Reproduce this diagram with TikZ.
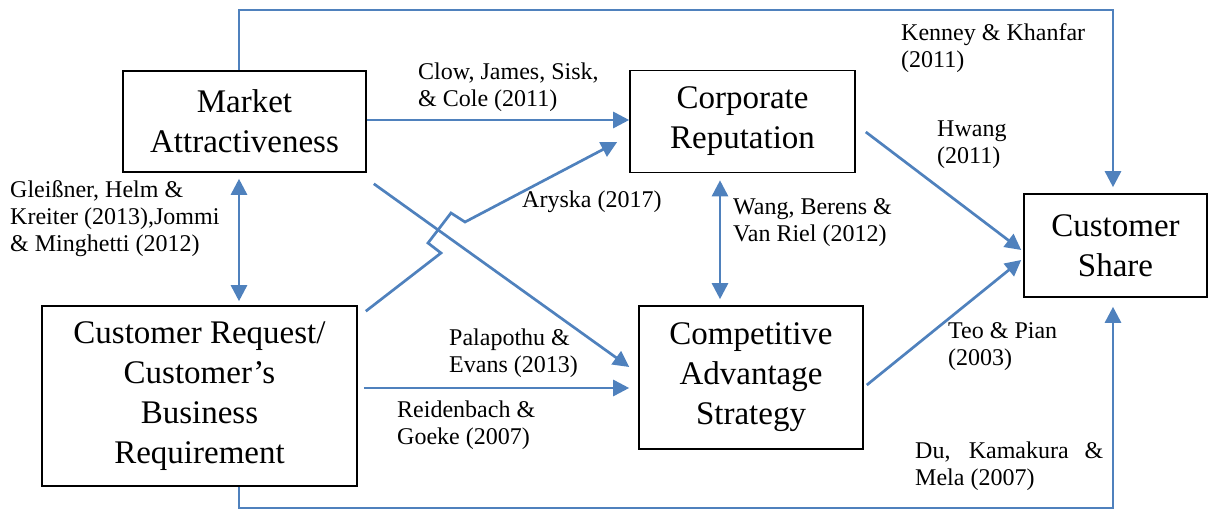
\documentclass[tikz,border=0pt]{standalone}
\usepackage{fontspec}
\setmainfont{Liberation Serif}
\usetikzlibrary{arrows.meta,calc}
\definecolor{linkblue}{RGB}{79,129,189}
\begin{document}
\begin{tikzpicture}[x=1pt,y=-1pt,
  box/.style={draw=black,line width=1.6pt,inner sep=0pt,align=center,font=\fontsize{33}{40}\selectfont},
  link/.style={draw=linkblue,line width=2.7pt,line join=miter,-{Triangle[length=16pt,width=16pt]}},
  both/.style={draw=linkblue,line width=2.7pt,{Triangle[length=16pt,width=16pt]}-{Triangle[length=16pt,width=16pt]}},
  cite/.style={anchor=base west,inner sep=0pt,font=\fontsize{24}{27}\selectfont}]
\useasboundingbox (0,0) rectangle (1209,510);

% boxes
\node[box,minimum width=243,minimum height=101] (ma) at (244.5,121.5) {Market\\Attractiveness};
\node[box,minimum width=225,minimum height=102] (cr) at (742.5,121.5) {Corporate\\Reputation};
\node[box,minimum width=183,minimum height=103] (cs) at (1115.5,245.5) {Customer\\Share};
\node[box,minimum width=315,minimum height=180] (crb) at (199.5,396) {Customer Request/\\Customer’s\\Business\\Requirement};
\node[box,minimum width=224,minimum height=143] (cas) at (751,377.5) {Competitive\\Advantage\\Strategy};

% routing coordinates
\coordinate (tl) at (239,10);
\coordinate (tr) at (1113,10);
\coordinate (bl) at (239,508);
\coordinate (br) at (1113,508);
\coordinate (mid) at (720,0);

% connectors
\draw[link,shorten >=6pt] (ma.north -| tl) -- (tl) -- (tr) -- (tr |- cs.north);
\draw[link,shorten >=9pt] (crb.south -| bl) -- (bl) -- (br) -- (br |- cs.south);
\draw[link] ($(ma.east)+(0,-1.5)$) -- ($(cr.west)+(0,-1.5)$);
\draw[both,shorten <=6pt,shorten >=4pt] (ma.south -| tl) -- (crb.north -| tl);
\draw[both,shorten <=7pt,shorten >=6pt] (cr.south -| mid) -- (cas.north -| mid);
\draw[link] ($(ma.south east)+(7,11)$) -- ($(cas.west)+(-9,-10.5)$);
\draw[link] ($(crb.north east)+(8,6)$) -- (441,253) -- (428,243) -- (451,213) -- (465,222) -- ($(cr.west)+(-12,20.5)$);
\draw[link] ($(crb.east)+(6,-8)$) -- ($(cas.west)+(-9,10.5)$);
\draw[link] ($(cr.east)+(10,10.5)$) -- ($(cs.west)+(-2,4.5)$);
\draw[link] ($(cas.east)+(3,7.5)$) -- ($(cs.west)+(-2,14.5)$);

% labels
\node[cite] (lclow) at (418,80) {\begin{tabular}[t]{@{}l@{}}Clow, James, Sisk,\\\& Cole (2011)\end{tabular}};
\node[cite] (lkenney) at (901,41) {\begin{tabular}[t]{@{}l@{}}Kenney \& Khanfar\\(2011)\end{tabular}};
\node[cite] (lhwang) at (937,137) {\begin{tabular}[t]{@{}l@{}}Hwang\\(2011)\end{tabular}};
\node[cite] (lgleis) at (10,198) {\begin{tabular}[t]{@{}l@{}}Gleißner, Helm \&\\Kreiter (2013),Jommi\\\& Minghetti (2012)\end{tabular}};
\node[cite] (laryska) at (522,208) {Aryska (2017)};
\node[cite] (lwang) at (733,215) {\begin{tabular}[t]{@{}l@{}}Wang, Berens \&\\Van Riel (2012)\end{tabular}};
\node[cite] (lpala) at (449,345) {\begin{tabular}[t]{@{}l@{}}Palapothu \&\\Evans (2013)\end{tabular}};
\node[cite] (lreid) at (397,417) {\begin{tabular}[t]{@{}l@{}}Reidenbach \&\\Goeke (2007)\end{tabular}};
\node[cite] (lteo) at (948,338) {\begin{tabular}[t]{@{}l@{}}Teo \& Pian\\(2003)\end{tabular}};
\node[cite] (ldu) at (915,458) {\begin{tabular}[t]{@{}l@{}}\makebox[188pt][s]{Du, Kamakura \&}\\Mela (2007)\end{tabular}};
\end{tikzpicture}
\end{document}
